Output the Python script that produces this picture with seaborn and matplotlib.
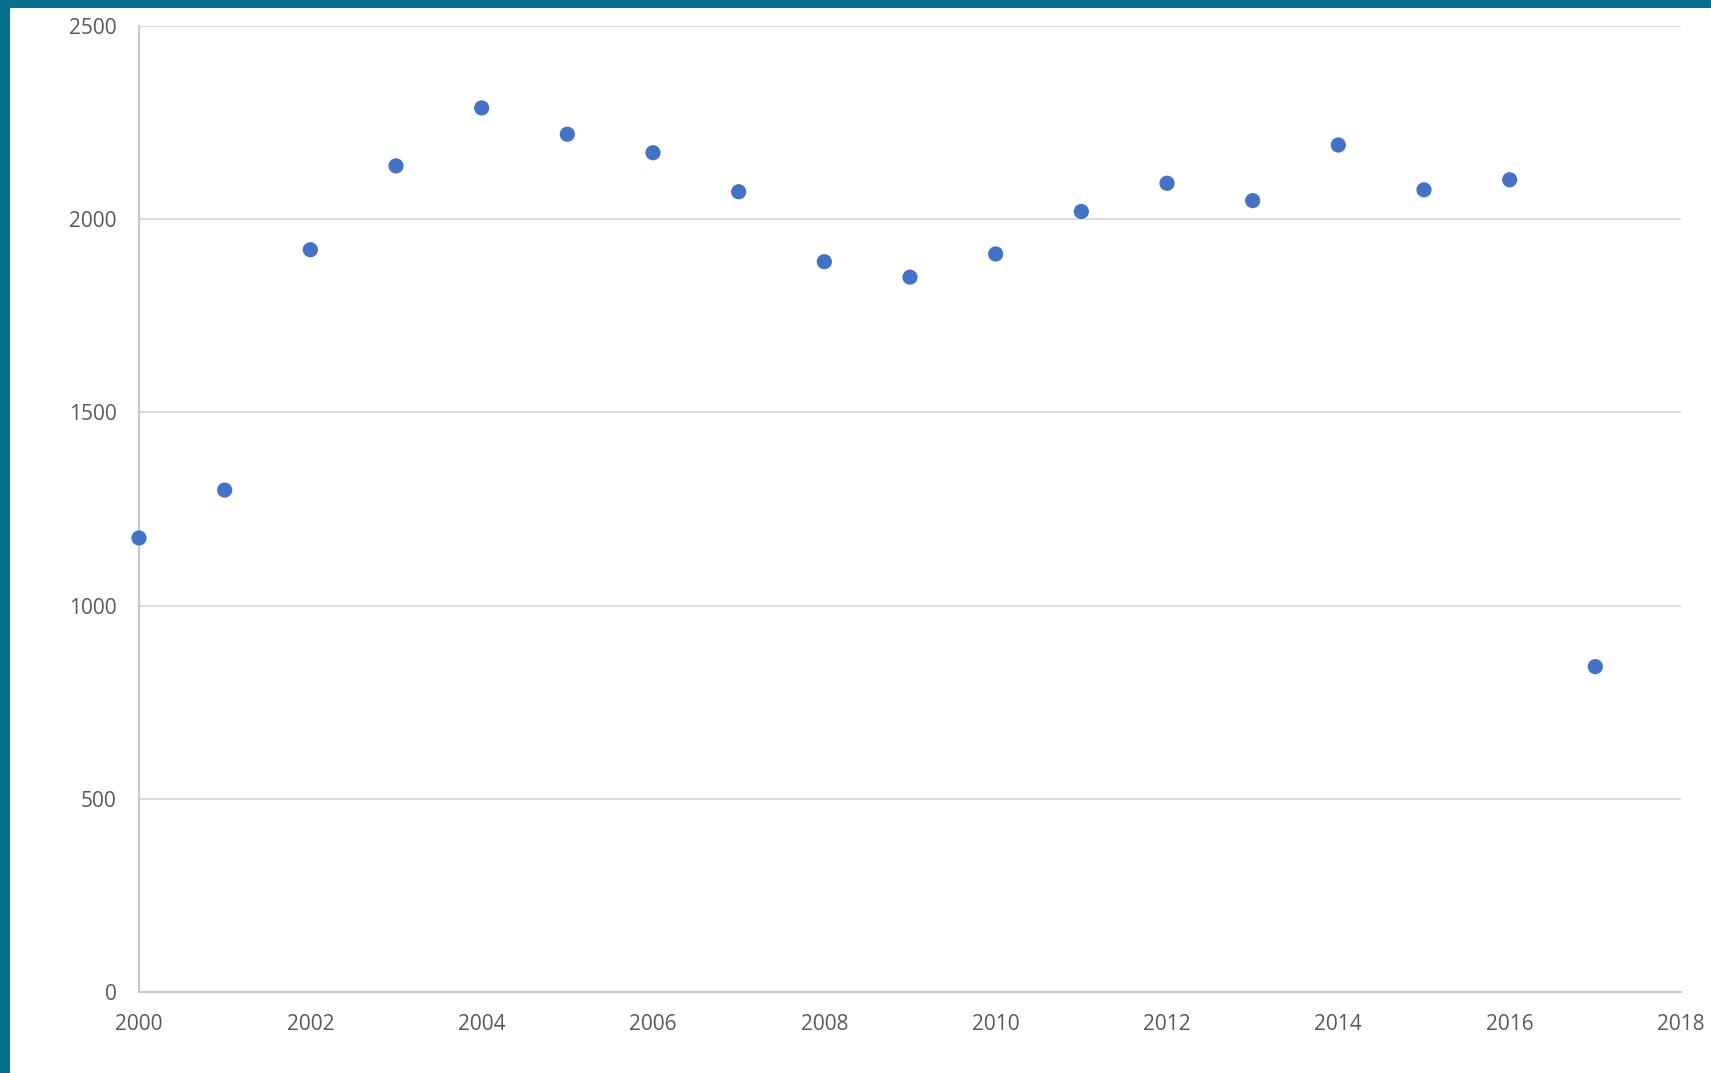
import matplotlib
matplotlib.use("Agg")
import matplotlib.pyplot as plt
from matplotlib.patches import Rectangle
import pandas as pd
import seaborn as sns

years = list(range(2000, 2018))
values = [1175, 1299, 1921, 2138, 2288, 2220, 2172, 2071, 1890,
          1850, 1910, 2020, 2093, 2048, 2192, 2076, 2102, 842]

x_ticks = list(range(2000, 2019, 2))
y_ticks = [0, 500, 1000, 1500, 2000, 2500]

df = pd.DataFrame({"year": years, "value": values})

sns.set_style("white")
plt.rcParams["font.family"] = ["Open Sans", "DejaVu Sans"]

fig = plt.figure(figsize=(17.11, 10.73), dpi=100)
fig.patch.set_facecolor("white")

# teal frame strips at top and left
teal = "#07708e"
fig.patches.append(Rectangle((0, 0), 10 / 1711, 1, transform=fig.transFigure,
                             facecolor=teal, edgecolor="none", zorder=0))
fig.patches.append(Rectangle((0, 1 - 8 / 1073), 1, 8 / 1073, transform=fig.transFigure,
                             facecolor=teal, edgecolor="none", zorder=0))

ax = fig.add_axes([139 / 1711, 81 / 1073, (1681 - 139) / 1711, (992 - 26) / 1073])

sns.scatterplot(data=df, x="year", y="value", ax=ax, color="#4472C4",
                s=120, edgecolor="none", clip_on=False, zorder=3)

ax.set_xlim(2000, 2018)
ax.set_ylim(0, 2500)
ax.set_xticks(x_ticks)
ax.set_yticks(y_ticks)
ax.set_xlabel("")
ax.set_ylabel("")

ax.grid(axis="y", color="#d9d9d9", linewidth=1.3)
ax.grid(axis="x", visible=False)
for side in ["top", "right"]:
    ax.spines[side].set_visible(False)
for side in ["left", "bottom"]:
    ax.spines[side].set_color("#c8c8c8")
    ax.spines[side].set_linewidth(1.5)

ax.tick_params(axis="both", length=0, labelsize=15, labelcolor="#595959")
ax.tick_params(axis="y", pad=16)
ax.tick_params(axis="x", pad=16)

fig.savefig("out.png", dpi=100, facecolor="white")
